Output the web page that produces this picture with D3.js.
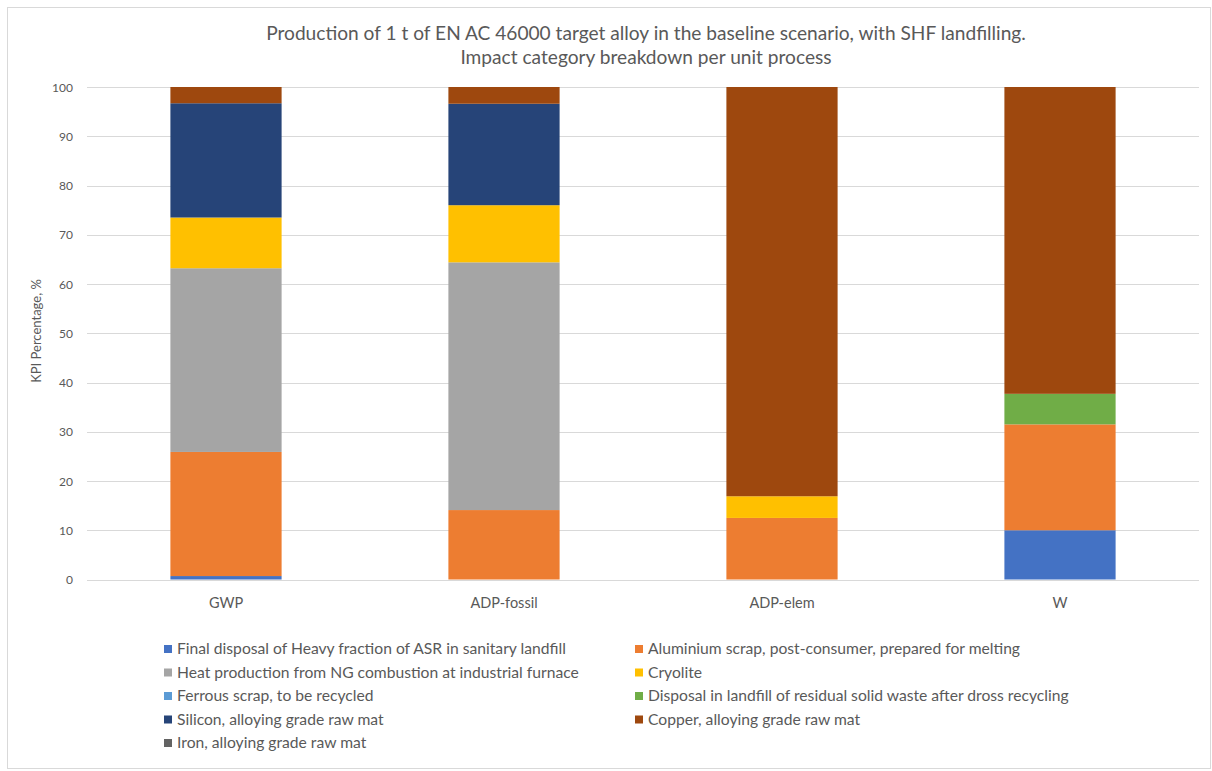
<!DOCTYPE html>
<html>
<head>
<meta charset="utf-8">
<script src="https://cdn.jsdelivr.net/npm/d3@7"></script>
<style>
  html, body { margin: 0; padding: 0; background: #fff; }
  svg { display: block; }
  text { font-family: Lato, "Open Sans", sans-serif; fill: #595959; }
</style>
</head>
<body>
<svg id="chart" width="1212" height="771"></svg>
<script>
const categories = ["GWP", "ADP-fossil", "ADP-elem", "W"];
const seriesNames = [
  "Final disposal of Heavy fraction of ASR in sanitary landfill",
  "Aluminium scrap, post-consumer, prepared for melting",
  "Heat production from NG combustion at industrial furnace",
  "Cryolite",
  "Ferrous scrap, to be recycled",
  "Disposal in landfill of residual solid waste after dross recycling",
  "Silicon, alloying grade raw mat",
  "Copper, alloying grade raw mat",
  "Iron, alloying grade raw mat"
];
const seriesColors = ["#4472C4", "#ED7D31", "#A5A5A5", "#FFC000", "#5B9BD5", "#70AD47", "#264478", "#9E480E", "#636363"];
// values per series, in order of categories
const finalDisposal = [0.7, 0, 0, 10.0];
const aluminiumScrap = [25.2, 14.1, 12.5, 21.5];
const heatProduction = [37.3, 50.3, 0, 0];
const cryolite = [10.3, 11.6, 4.4, 0];
const ferrousScrap = [0, 0, 0, 0];
const disposalLandfill = [0, 0, 0, 6.2];
const silicon = [23.2, 20.6, 0, 0];
const copper = [3.3, 3.4, 83.1, 62.3];
const iron = [0, 0, 0, 0];
const yTicks = [0, 10, 20, 30, 40, 50, 60, 70, 80, 90, 100];
const titleLines = [
  "Production of 1 t of EN AC 46000 target alloy in the baseline scenario, with SHF landfilling.",
  "Impact category breakdown per unit process"
];
const yAxisTitle = "KPI Percentage, %";

const seriesValues = [finalDisposal, aluminiumScrap, heatProduction, cryolite, ferrousScrap, disposalLandfill, silicon, copper, iron];

const table = categories.map((c, i) => {
  const row = { category: c };
  seriesNames.forEach((s, j) => { row[s] = seriesValues[j][i]; });
  return row;
});

const svg = d3.select("#chart");

// outer border
svg.append("rect").attr("x", 7.5).attr("y", 7.5).attr("width", 1203).attr("height", 761)
  .attr("fill", "#fff").attr("stroke", "#d9d9d9").attr("stroke-width", 1);

const x = d3.scaleBand().domain(categories).range([87, 1199]).paddingInner(0.6).paddingOuter(0.3);
const y = d3.scaleLinear().domain([0, 100]).range([579.5, 87]);

// gridlines
svg.append("g").selectAll("line").data(yTicks).join("line")
  .attr("x1", 87).attr("x2", 1199)
  .attr("y1", d => Math.round(y(d)) + 0.5).attr("y2", d => Math.round(y(d)) + 0.5)
  .attr("stroke", "#d9d9d9").attr("stroke-width", 1);

// y axis labels
const yAxis = d3.axisLeft(y).tickValues(yTicks).tickSize(0).tickPadding(0);
const yg = svg.append("g").attr("transform", "translate(73,0)").call(yAxis);
yg.select(".domain").remove();
yg.selectAll("text").style("font-size", "12px").style("font-family", "Lato, sans-serif").attr("fill", "#595959").attr("dy", "0.35em");

// stacked bars
const stack = d3.stack().keys(seriesNames);
const stacked = stack(table);
svg.append("g").selectAll("g").data(stacked).join("g")
  .attr("fill", (d, i) => seriesColors[i])
  .selectAll("rect").data(d => d).join("rect")
  .attr("x", d => x(d.data.category))
  .attr("width", x.bandwidth())
  .attr("y", d => y(d[1]))
  .attr("height", d => Math.max(0, y(d[0]) - y(d[1])));

// x axis labels
const xAxis = d3.axisBottom(x).tickSize(0).tickPadding(0);
const xg = svg.append("g").attr("transform", "translate(0,597)").call(xAxis);
xg.select(".domain").remove();
xg.selectAll("text").style("font-size", "14.5px").style("font-family", "Lato, sans-serif").attr("fill", "#595959").attr("dy", "0.75em");

// title
function fitText(sel, targetWidth) {
  const node = sel.node();
  const fs = parseFloat(sel.style("font-size"));
  const w = node.getComputedTextLength();
  sel.style("font-size", (fs * targetWidth / w) + "px");
}
const t1 = svg.append("text").attr("x", 646).attr("y", 40).attr("text-anchor", "middle")
  .style("font-size", "16px").text(titleLines[0]);
fitText(t1, 760);
const titleSize = t1.style("font-size");
svg.append("text").attr("x", 646).attr("y", 64).attr("text-anchor", "middle")
  .style("font-size", titleSize).text(titleLines[1]);

// y axis title
svg.append("text").attr("transform", "translate(41,331) rotate(-90)").attr("text-anchor", "middle")
  .style("font-size", "13px").text(yAxisTitle);

// legend
const legendCols = [164, 635];
const legendRowY = [649, 672.5, 696, 719.5, 743];
const lg = svg.append("g");
const items = lg.selectAll("g").data(seriesNames).join("g")
  .attr("transform", (d, i) => `translate(${legendCols[i % 2]},${legendRowY[Math.floor(i / 2)]})`);
items.append("rect").attr("x", 0).attr("y", -4).attr("width", 8).attr("height", 8)
  .attr("fill", (d, i) => seriesColors[i]);
const legendTexts = items.append("text").attr("x", 13).attr("y", 0).attr("dy", "0.35em")
  .style("font-size", "13px").text(d => d);
// fit legend font so the first entry matches the reference width
const ref = legendTexts.filter((d, i) => i === 0);
const w0 = ref.node().getComputedTextLength();
const lfs = 13 * 389 / w0;
legendTexts.style("font-size", lfs + "px");
</script>
</body>
</html>
